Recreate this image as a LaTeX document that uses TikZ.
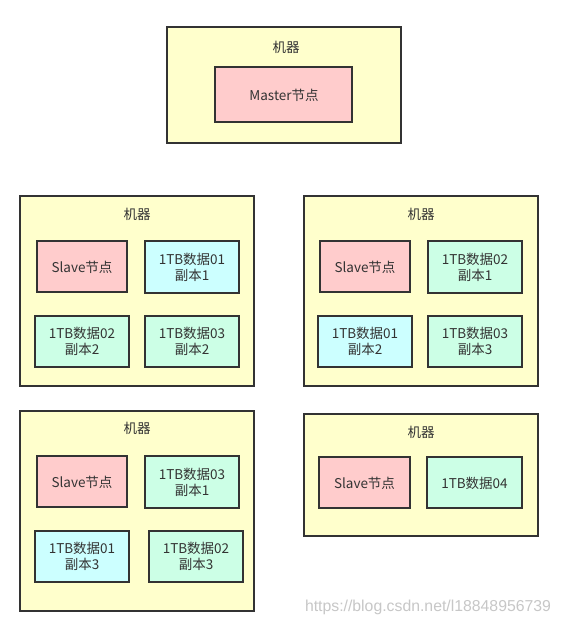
\documentclass[tikz,border=0pt]{standalone}
\usepackage{fontspec}
\setmainfont{Noto Sans CJK SC}
\newfontfamily\wmfont{Liberation Sans}
\definecolor{machfill}{HTML}{FFFFCC}
\definecolor{edgecol}{HTML}{333333}
\definecolor{pinkfill}{HTML}{FFCCCC}
\definecolor{cyanfill}{HTML}{CCFFFF}
\definecolor{mintfill}{HTML}{CCFFE6}
\definecolor{txtcol}{HTML}{333333}
\tikzset{
  machine/.style={draw=edgecol, line width=1.8pt, fill=machfill},
  inner/.style={draw=edgecol, line width=1.8pt},
  lbl/.style={text=txtcol, font=\fontsize{13.5}{16}\selectfont, align=center, inner sep=0pt},
}
\begin{document}
\begin{tikzpicture}[x=1pt,y=-1pt]
\useasboundingbox[fill=white] (0,0) rectangle (561,626);
% top machine
\draw[machine] (167,27) rectangle (401,143);
\node[lbl] (m1) at (286,47) {机器};
\draw[inner, fill=pinkfill] (215,67) rectangle (352,122);
\node[lbl] (master) at (284,95) {Master节点};
% machine 2
\draw[machine] (20,196) rectangle (254,386);
\node[lbl] (m2) at (137,214) {机器};
\draw[inner, fill=pinkfill] (37,241) rectangle (127,292);
\node[lbl] (s2) at (82,267) {Slave节点};
\draw[inner, fill=cyanfill] (145,241) rectangle (239,293);
\node[lbl] (d2a) at (192,267) {1TB数据01\\副本1};
\draw[inner, fill=mintfill] (35,316) rectangle (129,367);
\node[lbl] (d2b) at (82,341.5) {1TB数据02\\副本2};
\draw[inner, fill=mintfill] (145,316) rectangle (239,367);
\node[lbl] (d2c) at (192,341.5) {1TB数据03\\副本2};
% machine 3
\draw[machine] (304,196) rectangle (538,386);
\node[lbl] (m3) at (421,214) {机器};
\draw[inner, fill=pinkfill] (320,241) rectangle (410,292);
\node[lbl] (s3) at (365,267) {Slave节点};
\draw[inner, fill=mintfill] (428,241) rectangle (522,293);
\node[lbl] (d3a) at (475,267) {1TB数据02\\副本1};
\draw[inner, fill=cyanfill] (318,316) rectangle (412,367);
\node[lbl] (d3b) at (365,341.5) {1TB数据01\\副本2};
\draw[inner, fill=mintfill] (428,316) rectangle (522,367);
\node[lbl] (d3c) at (475,341.5) {1TB数据03\\副本3};
% machine 4
\draw[machine] (20,411) rectangle (254,611);
\node[lbl] (m4) at (137,428) {机器};
\draw[inner, fill=pinkfill] (37,456) rectangle (127,507);
\node[lbl] (s4) at (82,482) {Slave节点};
\draw[inner, fill=mintfill] (145,456) rectangle (239,508);
\node[lbl] (d4a) at (192,482) {1TB数据03\\副本1};
\draw[inner, fill=cyanfill] (35,531) rectangle (129,582);
\node[lbl] (d4b) at (82,556.5) {1TB数据01\\副本3};
\draw[inner, fill=mintfill] (149,531) rectangle (243,582);
\node[lbl] (d4c) at (196,556.5) {1TB数据02\\副本3};
% machine 5
\draw[machine] (304,414) rectangle (538,536);
\node[lbl] (m5) at (421,432) {机器};
\draw[inner, fill=pinkfill] (319,457) rectangle (410,508);
\node[lbl] (s5) at (364.5,483) {Slave节点};
\draw[inner, fill=mintfill] (427,457) rectangle (522,508);
\node[lbl] (d5a) at (474.5,483) {1TB数据04};
% watermark
\node[text=black!22, font=\wmfont\fontsize{15.8}{18}\selectfont, inner sep=0pt] (wm) at (428,607) {https://blog.csdn.net/l18848956739};
\end{tikzpicture}
\end{document}
